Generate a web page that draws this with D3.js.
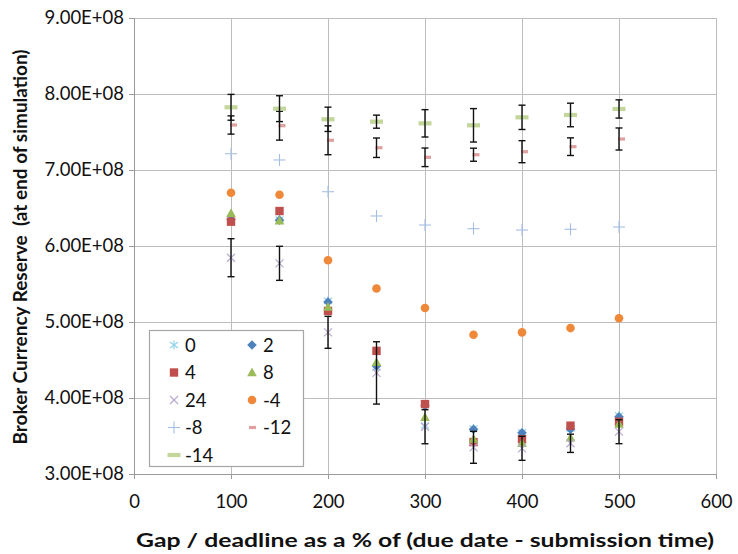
<!DOCTYPE html>
<html><head><meta charset="utf-8">
<script src="https://cdn.jsdelivr.net/npm/d3@7/dist/d3.min.js"></script>
<style>
body{margin:0;background:#fff;}
svg text{font-family:Lato,"Open Sans",sans-serif;fill:#111;}
</style></head>
<body><svg id="c" width="738" height="554"></svg>
<script>
const gaps = [100,150,200,250,300,350,400,450,500];
const s0   = [6.36,6.35,5.28,4.40,3.64,3.60,3.55,3.60,3.77];
const s2   = [6.35,6.34,5.263,4.42,3.90,3.588,3.543,3.59,3.754];
const s4   = [6.32,6.46,5.145,4.62,3.92,3.42,3.457,3.636,3.688];
const s8   = [6.43,6.333,5.197,4.47,3.746,3.46,3.404,3.478,3.658];
const s24  = [5.846,5.772,4.864,4.33,3.622,3.351,3.338,3.404,3.557];
const s24e = [0.25,0.224,0.21,0.41,0.224,0.21,0.158,0.12,0.158];
const sm4  = [6.70,6.675,5.812,5.44,5.184,4.833,4.864,4.92,5.05];
const sm8  = [7.214,7.132,6.714,6.395,6.276,6.228,6.21,6.22,6.25];
const sm12 = [7.592,7.583,7.391,7.293,7.167,7.201,7.241,7.307,7.408];
const sm12e= [0.12,0.19,0.19,0.128,0.122,0.086,0.145,0.116,0.145];
const sm14 = [7.825,7.807,7.667,7.636,7.614,7.588,7.693,7.724,7.803];
const sm14e= [0.17,0.17,0.16,0.086,0.18,0.22,0.16,0.155,0.12];
const xTicks = [0,100,200,300,400,500,600];
const yTicks = [3e8,4e8,5e8,6e8,7e8,8e8,9e8];
const legendLabels = ["0","2","4","8","24","-4","-8","-12","-14"];

const series = [
  {name:"0",  vals:s0,  type:"asterisk", color:"#8fd3ea"},
  {name:"2",  vals:s2,  type:"diamond",  color:"#4f81bd"},
  {name:"4",  vals:s4,  type:"square",   color:"#c0504d"},
  {name:"8",  vals:s8,  type:"triangle", color:"#9bbb59"},
  {name:"24", vals:s24, err:s24e, type:"x", color:"#b9acd2"},
  {name:"-4", vals:sm4, type:"circle",   color:"#f0883a"},
  {name:"-8", vals:sm8, type:"plus",     color:"#a5bfe3"},
  {name:"-12",vals:sm12,err:sm12e, type:"dash", color:"#e0a0a0"},
  {name:"-14",vals:sm14,err:sm14e, type:"longdash", color:"#c3d69b"}
];

const svg = d3.select("#c");
const L=134,R=716,T=18,B=474;
const x = d3.scaleLinear().domain([0,600]).range([L,R]);
const y = d3.scaleLinear().domain([3e8,9e8]).range([B,T]);

// gridlines
svg.append("g").selectAll("line").data(yTicks).join("line")
  .attr("x1",L).attr("x2",R).attr("y1",d=>y(d)).attr("y2",d=>y(d))
  .attr("stroke","#bdbdbd").attr("stroke-width",1).attr("shape-rendering","crispEdges");
svg.append("g").selectAll("line").data(xTicks.slice(1)).join("line")
  .attr("x1",d=>x(d)).attr("x2",d=>x(d)).attr("y1",T).attr("y2",B)
  .attr("stroke","#bdbdbd").attr("stroke-width",1).attr("shape-rendering","crispEdges");

// axes
const yAxis = d3.axisLeft(y).tickValues(yTicks).tickSize(5).tickPadding(5)
  .tickFormat(d=>(d/1e8).toFixed(2)+"E+08");
const gy = svg.append("g").attr("transform",`translate(${L},0)`).call(yAxis);
const xAxis = d3.axisBottom(x).tickValues(xTicks).tickSize(5).tickPadding(16);
const gx = svg.append("g").attr("transform",`translate(0,${B})`).call(xAxis);
[gx,gy].forEach(g=>{
  g.select(".domain").attr("stroke","#9a9a9a").attr("shape-rendering","crispEdges");
  g.selectAll(".tick line").attr("stroke","#9a9a9a").attr("shape-rendering","crispEdges");
  g.selectAll(".tick text").style("font-size","18.5px").style("font-family","Lato").attr("fill","#111");
});

// marker drawer
function drawMarker(g, type, color, cx, cy){
  switch(type){
    case "asterisk":
      [[0,-4.5,0,4.5],[-4,-3,4,3],[-4,3,4,-3]].forEach(p=>g.append("line")
        .attr("x1",cx+p[0]).attr("y1",cy+p[1]).attr("x2",cx+p[2]).attr("y2",cy+p[3])
        .attr("stroke",color).attr("stroke-width",1.2));
      break;
    case "diamond":
      g.append("path").attr("d",`M${cx},${cy-4.8}L${cx+4.8},${cy}L${cx},${cy+4.8}L${cx-4.8},${cy}Z`).attr("fill",color);
      break;
    case "square":
      g.append("rect").attr("x",cx-4.2).attr("y",cy-4.2).attr("width",8.4).attr("height",8.4).attr("fill",color);
      break;
    case "triangle":
      g.append("path").attr("d",`M${cx},${cy-5}L${cx+4.8},${cy+3.8}L${cx-4.8},${cy+3.8}Z`).attr("fill",color);
      break;
    case "x":
      [[-4,-4,4,4],[-4,4,4,-4]].forEach(p=>g.append("line")
        .attr("x1",cx+p[0]).attr("y1",cy+p[1]).attr("x2",cx+p[2]).attr("y2",cy+p[3])
        .attr("stroke",color).attr("stroke-width",1.2));
      break;
    case "circle":
      g.append("circle").attr("cx",cx).attr("cy",cy).attr("r",4.3).attr("fill",color);
      break;
    case "plus":
      [[-6,0,6,0],[0,-6,0,6]].forEach(p=>g.append("line")
        .attr("x1",cx+p[0]).attr("y1",cy+p[1]).attr("x2",cx+p[2]).attr("y2",cy+p[3])
        .attr("stroke",color).attr("stroke-width",1.1));
      break;
    case "dash":
      g.append("rect").attr("x",cx-1).attr("y",cy-1.6).attr("width",7).attr("height",3.2).attr("fill",color);
      break;
    case "longdash":
      g.append("rect").attr("x",cx-6.5).attr("y",cy-2.1).attr("width",13).attr("height",4.2).attr("fill",color);
      break;
  }
}

const plot = svg.append("g");
series.forEach(s=>{
  const g = plot.append("g");
  s.vals.forEach((v,i)=>{
    drawMarker(g, s.type, s.color, x(gaps[i]), y(v*1e8));
  });
  if(s.err){
    const eg = plot.append("g").attr("stroke","#111").attr("stroke-width",1.4);
    s.vals.forEach((v,i)=>{
      const cx=x(gaps[i]), y1=y((v+s.err[i])*1e8), y2=y((v-s.err[i])*1e8);
      eg.append("line").attr("x1",cx).attr("x2",cx).attr("y1",y1).attr("y2",y2);
      eg.append("line").attr("x1",cx-3.5).attr("x2",cx+3.5).attr("y1",y1).attr("y2",y1);
      eg.append("line").attr("x1",cx-3.5).attr("x2",cx+3.5).attr("y1",y2).attr("y2",y2);
    });
  }
});

// legend
const lg = svg.append("g");
lg.append("rect").attr("x",149.5).attr("y",330.5).attr("width",154).attr("height",136)
  .attr("fill","#fff").attr("stroke","#a6a6a6").attr("stroke-width",1.2);
series.forEach((s,i)=>{
  const col=i%2, row=Math.floor(i/2);
  const mx = col===0?174:252, my = 345+row*27.5;
  drawMarker(lg, s.type, s.color, s.type==="dash"?mx-2:mx, my);
  lg.append("text").attr("x",mx+11).attr("y",my+6.5).style("font-size","18.5px").text(legendLabels[i]);
});

// axis titles
svg.append("text").attr("x",425).attr("y",547).attr("text-anchor","middle")
  .style("font-size","18px").style("font-weight","bold")
  .attr("textLength",578).attr("lengthAdjust","spacingAndGlyphs")
  .text("Gap / deadline as a % of (due date - submission time)");
svg.append("text").attr("transform","translate(27,247) rotate(-90)").attr("text-anchor","middle")
  .style("font-size","18px").style("font-weight","bold").attr("xml:space","preserve")
  .attr("textLength",395).attr("lengthAdjust","spacingAndGlyphs")
  .text("Broker Currency Reserve  (at end of simulation)");
</script></body></html>
